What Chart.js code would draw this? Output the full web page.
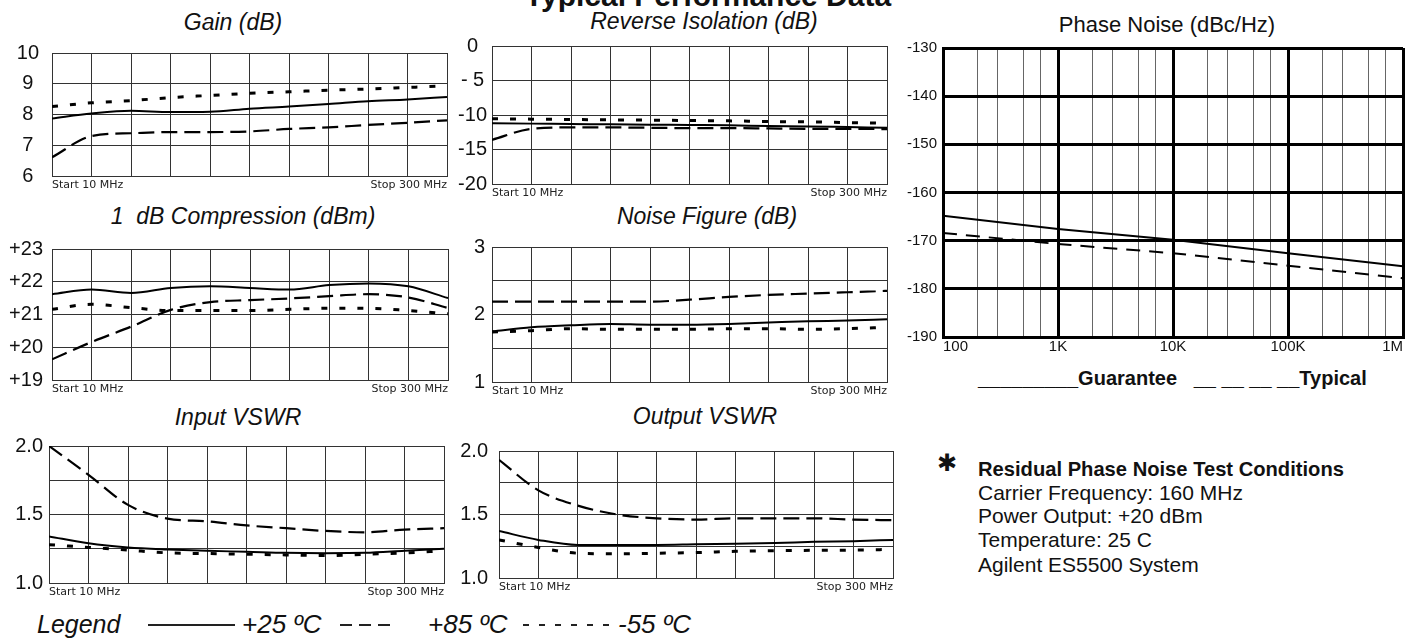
<!DOCTYPE html>
<html lang="en">
<head>
<meta charset="UTF-8" />
<title>Typical Performance Data</title>
<script src="https://cdn.jsdelivr.net/npm/chart.js"></script>
<style>
  body { margin: 0; width: 1426px; height: 638px; overflow: hidden; background: #fff; position: relative;
         font-family: "Liberation Sans", Arial, sans-serif; color: #111; }
  .box { position: absolute; }
  .txt { position: absolute; line-height: 1; white-space: nowrap; }
  .ttl { position: absolute; width: 400px; text-align: center; font-style: italic; font-size: 23px; line-height: 1; white-space: nowrap; }
  .it { font-style: italic; }
  .ln { position: absolute; height: 1.5px; }
</style>
</head>
<body>
  <!-- headings -->
  <div class="txt" style="left:408px; top:-19px; width:600px; text-align:center; font-size:30px; font-weight:bold;">Typical Performance Data</div>
  <div class="ttl" style="left:33px; top:11px;">Gain (dB)</div>
  <div class="ttl" style="left:504px; top:10px;">Reverse Isolation (dB)</div>
  <div class="ttl" style="left:43px; top:205px;">1&nbsp; dB Compression (dBm)</div>
  <div class="ttl" style="left:507px; top:205px;">Noise Figure (dB)</div>
  <div class="ttl" style="left:38px; top:406px;">Input VSWR</div>
  <div class="ttl" style="left:505px; top:405px;">Output VSWR</div>
  <div class="ttl" style="left:967px; top:14px; font-style:normal; font-size:22px;">Phase Noise (dBc/Hz)</div>

  <!-- charts -->
  <div id="gainBox" class="box"><canvas id="gainChart"></canvas></div>
  <div id="revIsoBox" class="box"><canvas id="revIsoChart"></canvas></div>
  <div id="compBox" class="box"><canvas id="compChart"></canvas></div>
  <div id="nfBox" class="box"><canvas id="nfChart"></canvas></div>
  <div id="inVswrBox" class="box"><canvas id="inVswrChart"></canvas></div>
  <div id="outVswrBox" class="box"><canvas id="outVswrChart"></canvas></div>
  <div id="phaseBox" class="box" style="left:893px; top:33px; width:518px; height:324px;"><canvas id="phaseChart"></canvas></div>

  <!-- phase noise legend + test conditions -->
  <div class="txt" style="left:978px; top:368px; font-size:20px; font-weight:bold;">_________Guarantee&nbsp;&nbsp;&nbsp;__ __ __ __Typical</div>
  <div class="txt" style="left:937px; top:451px; font-size:24px; font-weight:bold; font-family:'DejaVu Sans';">&#10033;</div>
  <div class="txt" style="left:978px; top:458px; font-size:21px; font-weight:bold; transform:scaleX(0.96); transform-origin:left;">Residual Phase Noise Test Conditions</div>
  <div class="txt" style="left:978px; top:482px; font-size:21px;">Carrier Frequency: 160 MHz</div>
  <div class="txt" style="left:978px; top:505px; font-size:21px;">Power Output: +20 dBm</div>
  <div class="txt" style="left:978px; top:529px; font-size:21px;">Temperature: 25 C</div>
  <div class="txt" style="left:978px; top:554px; font-size:21px;">Agilent ES5500 System</div>

  <!-- temperature legend -->
  <div class="txt it" style="left:37px; top:612px; font-size:25px;">Legend</div>
  <div class="ln" style="left:148px; top:624px; width:87px; background:#222;"></div>
  <div class="txt it" style="left:242px; top:611px; font-size:26px;">+25 ºC</div>
  <div class="ln" style="left:340px; top:624px; width:50px; background:repeating-linear-gradient(90deg,#222 0 12px,transparent 12px 19px);"></div>
  <div class="txt it" style="left:428px; top:611px; font-size:26px;">+85 ºC</div>
  <div class="ln" style="left:523px; top:624px; width:86px; background:repeating-linear-gradient(90deg,#222 0 6px,transparent 6px 16px);"></div>
  <div class="txt it" style="left:618px; top:611px; font-size:26px;">-55 ºC</div>

<script>
  // sweep points, Start 10 MHz .. Stop 300 MHz, one per grid division
  const freqMHz = [10, 39, 68, 97, 126, 155, 184, 213, 242, 271, 300];

  // Gain (dB)
  const gain25 = [7.87, 8.03, 8.12, 8.08, 8.09, 8.19, 8.26, 8.34, 8.43, 8.49, 8.57];
  const gain85 = [6.61, 7.30, 7.39, 7.43, 7.43, 7.45, 7.53, 7.58, 7.66, 7.73, 7.81];
  const gainM55 = [8.26, 8.38, 8.45, 8.55, 8.62, 8.69, 8.74, 8.79, 8.83, 8.88, 8.93];
  const gainTicks = [6, 7, 8, 9, 10];
  const gainTickText = ['6', '7', '8', '9', '10'];

  // Reverse Isolation (dB)
  const revIso25 = [-11.2, -11.25, -11.3, -11.35, -11.4, -11.45, -11.5, -11.6, -11.65, -11.75, -11.85];
  const revIso85 = [-13.6, -12.0, -11.8, -11.8, -11.85, -11.9, -11.9, -11.95, -12.0, -12.0, -12.05];
  const revIsoM55 = [-10.55, -10.6, -10.65, -10.7, -10.75, -10.8, -10.85, -10.95, -11.0, -11.1, -11.2];
  const revIsoTicks = [-20, -15, -10, -5, 0];
  const revIsoTickText = ['-20', '-15', '-10', '- 5', '0'];

  // 1 dB Compression (dBm)
  const comp25 = [21.62, 21.76, 21.66, 21.81, 21.86, 21.81, 21.76, 21.90, 21.95, 21.86, 21.50];
  const comp85 = [19.63, 20.16, 20.63, 21.14, 21.38, 21.44, 21.49, 21.56, 21.62, 21.52, 21.20];
  const compM55 = [21.16, 21.31, 21.21, 21.12, 21.12, 21.12, 21.16, 21.19, 21.19, 21.12, 21.02];
  const compTicks = [19, 20, 21, 22, 23];
  const compTickText = ['+19', '+20', '+21', '+22', '+23'];

  // Noise Figure (dB)
  const nf25 = [1.75, 1.81, 1.84, 1.86, 1.85, 1.85, 1.86, 1.88, 1.90, 1.91, 1.93];
  const nf85 = [2.19, 2.19, 2.19, 2.19, 2.19, 2.22, 2.26, 2.29, 2.31, 2.33, 2.35];
  const nfM55 = [1.74, 1.76, 1.79, 1.78, 1.78, 1.78, 1.79, 1.79, 1.78, 1.79, 1.81];
  const nfTicks = [1, 2, 3];
  const nfTickText = ['1', '2', '3'];

  // Input / Output VSWR
  const inVswr25 = [1.34, 1.29, 1.26, 1.245, 1.235, 1.228, 1.22, 1.218, 1.22, 1.235, 1.25];
  const inVswr85 = [2.0, 1.79, 1.57, 1.47, 1.45, 1.42, 1.40, 1.38, 1.37, 1.39, 1.40];
  const inVswrM55 = [1.28, 1.26, 1.24, 1.22, 1.215, 1.21, 1.205, 1.20, 1.21, 1.22, 1.235];
  const outVswr25 = [1.37, 1.30, 1.26, 1.26, 1.26, 1.265, 1.27, 1.275, 1.285, 1.29, 1.30];
  const outVswr85 = [1.93, 1.69, 1.57, 1.50, 1.47, 1.46, 1.47, 1.47, 1.47, 1.46, 1.455];
  const outVswrM55 = [1.30, 1.24, 1.195, 1.19, 1.195, 1.20, 1.21, 1.215, 1.218, 1.22, 1.225];
  const vswrTicks = [1, 1.5, 2];
  const vswrTickText = ['1.0', '1.5', '2.0'];

  // Phase noise (dBc/Hz) vs offset
  const offsetHz = [100, 1000, 10000, 100000, 1000000];
  const guarantee = [-164.8, -167.6, -169.8, -172.6, -175.3];
  const typical = [-168.4, -170.7, -172.6, -175.2, -177.8];
  const phaseGridHz = [100, 200, 300, 500, 700, 1000, 2000, 3000, 5000, 7000, 10000, 20000, 30000, 50000, 70000,
                       100000, 200000, 300000, 500000, 700000, 1000000];
  const phaseTickText = ['100', '1K', '10K', '100K', '1M'];

  Chart.defaults.font.family = '"Liberation Sans", Arial, sans-serif';
  Chart.defaults.color = '#111';

  const GRID = '#333';
  const Y_W = 46, PAD_T = 14, X_H = 18, PAD_R = 6;

  function lineSet(values, xs, kind) {
    return {
      data: values.map((v, i) => ({ x: xs[i], y: v })),
      borderColor: '#000',
      borderWidth: kind === 'solid' ? 2 : kind === 'long' ? 2.2 : 3,
      borderDash: kind === 'long' ? [16, 7] : kind === 'short' ? [6, 12] : [],
      pointRadius: 0,
      cubicInterpolationMode: 'monotone',
      fill: false
    };
  }

  // plot = [left, top, width, height] of the grid area
  function smallChart(id, plot, yMin, yMax, step, tickVals, tickText, tickPad, s25, s85, s55) {
    const box = document.getElementById(id + 'Box');
    box.style.left = (plot[0] - Y_W) + 'px';
    box.style.top = (plot[1] - PAD_T) + 'px';
    box.style.width = (Y_W + plot[2] + PAD_R) + 'px';
    box.style.height = (PAD_T + plot[3] + X_H) + 'px';

    new Chart(document.getElementById(id + 'Chart'), {
      type: 'line',
      data: {
        datasets: [
          lineSet(s25, freqMHz, 'solid'),
          lineSet(s85, freqMHz, 'long'),
          lineSet(s55, freqMHz, 'short')
        ]
      },
      options: {
        animation: false,
        responsive: true,
        maintainAspectRatio: false,
        layout: { padding: { top: PAD_T, right: PAD_R, left: 0, bottom: 0 } },
        plugins: { legend: { display: false }, tooltip: { enabled: false } },
        scales: {
          x: {
            type: 'linear', min: 10, max: 300,
            afterFit: s => { s.height = X_H; },
            grid: { color: GRID, lineWidth: 1, drawTicks: false },
            border: { color: GRID, width: 1 },
            ticks: {
              stepSize: 29, autoSkip: false, maxRotation: 0, align: 'inner', padding: 3,
              font: { family: '"DejaVu Sans", Verdana, sans-serif', size: 11 }, color: '#222',
              callback: (v, i, ticks) => i === 0 ? 'Start 10 MHz' : (i === ticks.length - 1 ? 'Stop 300 MHz' : '')
            }
          },
          y: {
            min: yMin, max: yMax,
            afterFit: s => { s.width = Y_W; },
            grid: { color: GRID, lineWidth: 1, drawTicks: false },
            border: { color: GRID, width: 1 },
            ticks: {
              stepSize: step, crossAlign: 'center', padding: tickPad,
              font: { size: 20 }, color: '#111',
              callback: v => { const k = tickVals.indexOf(v); return k < 0 ? '' : tickText[k]; }
            }
          }
        }
      }
    });
  }

  smallChart('gain', [52, 42, 395, 141], 6, 10, 1, gainTicks, gainTickText, 13, gain25, gain85, gainM55);
  smallChart('revIso', [492, 43, 395, 141], -20, 0, 5, revIsoTicks, revIsoTickText, 5, revIso25, revIso85, revIsoM55);
  smallChart('comp', [52, 242, 396, 141], 19, 23, 1, compTicks, compTickText, 9, comp25, comp85, compM55);
  smallChart('nf', [492, 242, 395, 141], 1, 3, 0.5, nfTicks, nfTickText, 7, nf25, nf85, nfM55);
  smallChart('inVswr', [49, 442, 395, 141], 1, 2, 0.25, vswrTicks, vswrTickText, 6, inVswr25, inVswr85, inVswrM55);
  smallChart('outVswr', [499, 442, 394, 141], 1, 2, 0.25, vswrTicks, vswrTickText, 11, outVswr25, outVswr85, outVswrM55);

  // Phase noise chart, log frequency axis
  const isDecade = v => offsetHz.indexOf(v) >= 0;
  new Chart(document.getElementById('phaseChart'), {
    type: 'line',
    data: {
      datasets: [
        Object.assign(lineSet(guarantee, offsetHz, 'solid'), { cubicInterpolationMode: 'default', tension: 0 }),
        Object.assign(lineSet(typical, offsetHz, 'solid'), { borderDash: [14, 9], tension: 0, cubicInterpolationMode: 'default' })
      ]
    },
    options: {
      animation: false,
      responsive: true,
      maintainAspectRatio: false,
      layout: { padding: { top: 14, right: 8, left: 0, bottom: 0 } },
      plugins: { legend: { display: false }, tooltip: { enabled: false } },
      scales: {
        x: {
          type: 'logarithmic', min: 100, max: 1000000,
          afterBuildTicks: s => { s.ticks = phaseGridHz.map(v => ({ value: v })); },
          afterFit: s => { s.height = 20; },
          grid: {
            drawTicks: false,
            color: ctx => isDecade(ctx.tick.value) ? '#000' : '#666',
            lineWidth: ctx => isDecade(ctx.tick.value) ? 3 : 1
          },
          border: { color: '#000', width: 3 },
          ticks: {
            autoSkip: false, maxRotation: 0, align: 'inner', padding: 1,
            font: { size: 15 }, color: '#111',
            callback: v => { const k = offsetHz.indexOf(v); return k < 0 ? '' : phaseTickText[k]; }
          }
        },
        y: {
          min: -190, max: -130,
          afterFit: s => { s.width = 50; },
          grid: { color: '#000', lineWidth: 3, drawTicks: false },
          border: { color: '#000', width: 3 },
          ticks: { stepSize: 10, padding: 6, font: { size: 15 }, color: '#111' }
        }
      }
    }
  });
</script>
</body>
</html>
